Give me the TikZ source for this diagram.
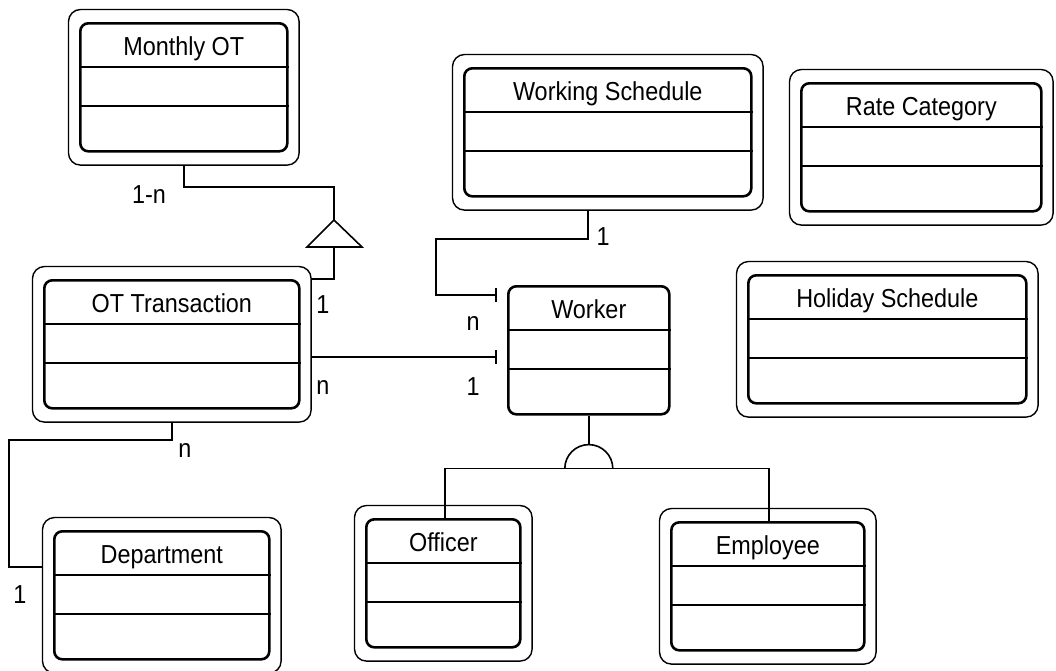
\documentclass[tikz,border=0pt]{standalone}
\usepackage{fontspec}
\setmainfont{Liberation Sans}[FakeStretch=0.9]
\usetikzlibrary{arrows.meta,fit}

% one class: body with three compartments and a centred title
% #1 name, #2 left x, #3 top y, #4 width, #5 title
\newcommand\classbox[5]{%
  \node[classbody, minimum width=#4pt] (#1) at (#2,#3) {};
  \draw[divider] ([yshift=-45pt]#1.north west) -- ([yshift=-45pt]#1.north east);
  \draw[divider] ([yshift=-84pt]#1.north west) -- ([yshift=-84pt]#1.north east);
  \node[title] (#1-t) at ([yshift=-33pt]#1.north) {#5};
}
% thin outer frame around a class
\newcommand\classframe[1]{%
  \node[frame, fit=(#1)] (#1-o) {};
}

\begin{document}
\begin{tikzpicture}[x=1pt, y=-1pt,
  classbody/.style={draw, line width=2.6pt, rounded corners=8pt, inner sep=0pt,
                    minimum height=128pt, anchor=north west},
  frame/.style={draw, line width=1.4pt, rounded corners=12pt,
                inner xsep=10.5pt, inner ysep=12.5pt},
  divider/.style={line width=1.8pt},
  conn/.style={line width=1.6pt},
  barend/.style={conn, -{Bar[width=14pt, line width=1.6pt]}, shorten >=10pt},
  title/.style={font=\fontsize{26}{30}\selectfont, inner sep=0pt, anchor=base},
  lbl/.style={font=\fontsize{26}{30}\selectfont, inner sep=0pt}
]
\useasboundingbox (0,0) rectangle (1056,670);

% classes
\classbox{mo}{79}{22}{207}{Monthly OT}
\classbox{ot}{43}{279}{255}{OT Transaction}
\classbox{ws}{463}{67}{287}{Working Schedule}
\classbox{rc}{800}{82}{240}{Rate Category}
\classbox{hs}{747}{274}{278}{Holiday Schedule}
\classbox{dp}{53}{530}{215}{Department}
\classbox{of}{365}{518}{154}{Officer}
\classbox{em}{670}{521}{193}{Employee}
\classbox{wk}{507}{285}{161}{Worker}

\classframe{mo}
\classframe{ot}
\classframe{ws}
\classframe{rc}
\classframe{hs}
\classframe{dp}
\classframe{of}
\classframe{em}

% aggregation of OT transactions into the monthly record
\coordinate (tri-top) at (334,220);
\coordinate (tri-base) at (334,247);
\draw[conn] (mo-o.south) |- (tri-top |- 0,187) -- (tri-top);
\draw[conn, line join=miter] (tri-top) -- (307,247) -- (362,247) -- cycle;
\draw[conn] (tri-base) |- (ot-o.east |- 0,279);

% associations ending at the worker
\draw[barend] (ot-o.east |- 0,357) -- (wk.west |- 0,357);
\draw[barend] (ws-o.south -| 588,0) |- (436,239) |- (wk.west |- 0,295);

% department link
\draw[conn] (ot-o.south) |- (9,440) |- (dp-o.west |- 0,567);

% worker specialisations
\coordinate (dome-top) at ([yshift=-29pt]wk.south);
\coordinate (dome-base) at ([yshift=-53pt]wk.south);
\draw[conn] (wk.south) -- (dome-top);
\draw[conn] ([xshift=-24pt]dome-base) arc[start angle=180, end angle=0, radius=24pt];
\draw[conn] (of.north -| 445,0) -- (445,0 |- dome-base) -- (769,0 |- dome-base) -- (em.north -| 769,0);

% multiplicities
\node[lbl] (m1) at (149,195) {1-n};
\node[lbl] (m2) at (323,305) {1};
\node[lbl] (m3) at (323,387) {n};
\node[lbl] (m4) at (473,323) {n};
\node[lbl] (m5) at (473,387) {1};
\node[lbl] (m6) at (603,237) {1};
\node[lbl] (m7) at (185,450) {n};
\node[lbl] (m8) at (20,595) {1};
\end{tikzpicture}
\end{document}
